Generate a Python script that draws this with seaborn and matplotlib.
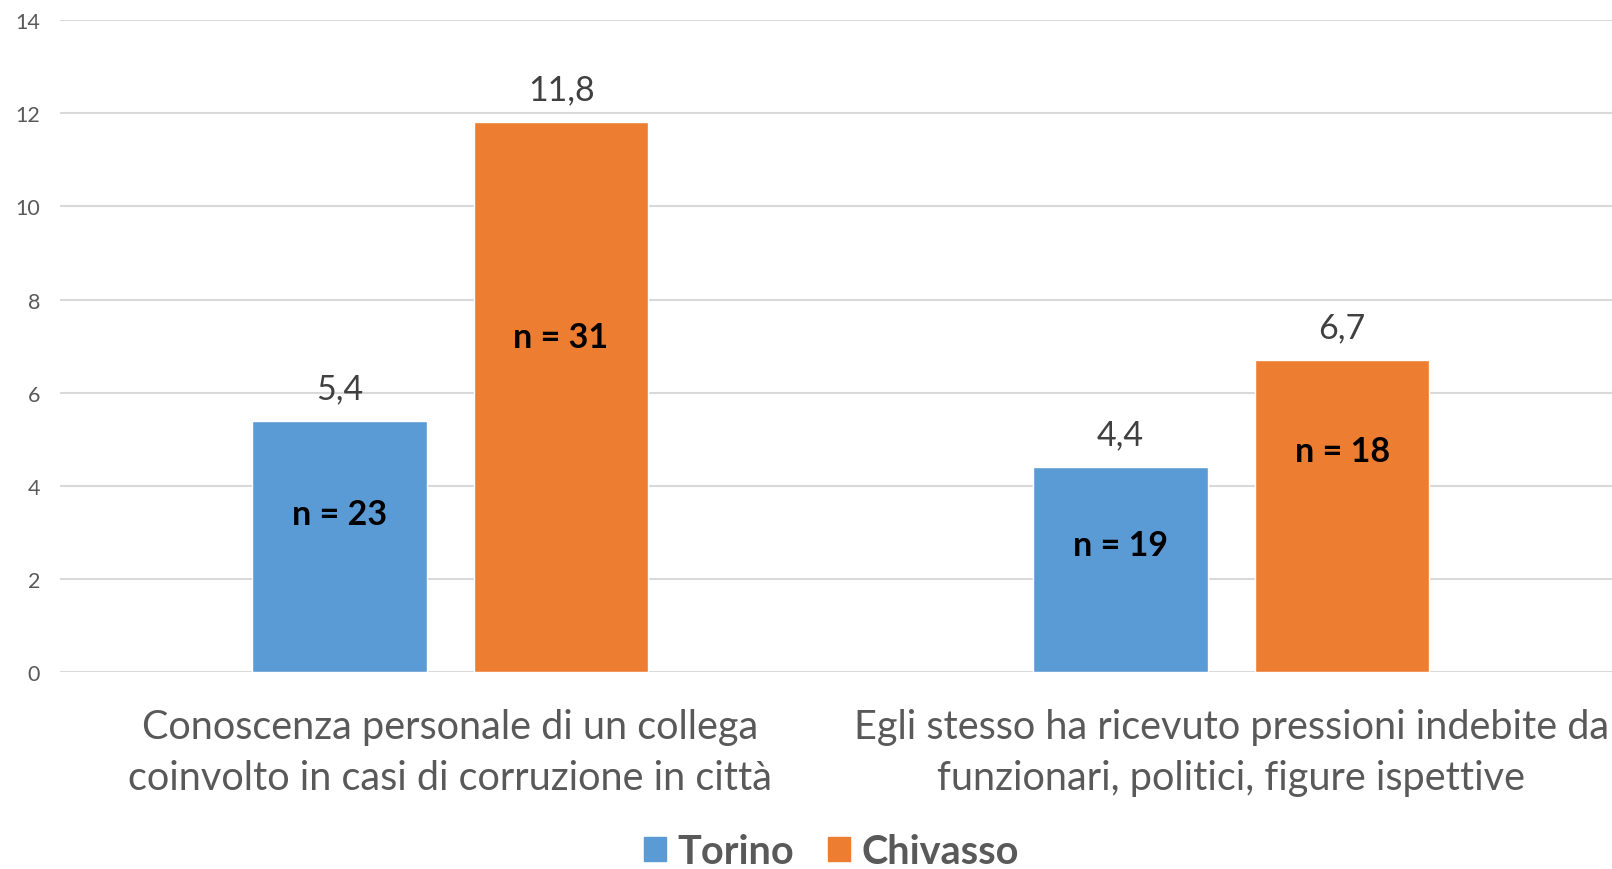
import matplotlib
matplotlib.use("Agg")
import matplotlib.pyplot as plt
import seaborn as sns
import pandas as pd

categories = [
    "Conoscenza personale di un collega\ncoinvolto in casi di corruzione in città",
    "Egli stesso ha ricevuto pressioni indebite da\nfunzionari, politici, figure ispettive",
]
cities = ["Torino", "Chivasso"]
torino_values = [5.4, 4.4]
chivasso_values = [11.8, 6.7]
torino_n = [23, 19]
chivasso_n = [31, 18]
y_ticks = [0, 2, 4, 6, 8, 10, 12, 14]

palette = {"Torino": "#5B9BD5", "Chivasso": "#ED7D31"}
text_grey = "#595959"

df = pd.DataFrame({
    "categoria": categories * 2,
    "città": ["Torino"] * 2 + ["Chivasso"] * 2,
    "valore": torino_values + chivasso_values,
    "n": torino_n + chivasso_n,
})

sns.set_style("white")
plt.rcParams["font.family"] = ["Lato", "DejaVu Sans"]

fig = plt.figure(figsize=(16.12, 8.70), dpi=100)
ax = fig.add_axes([0.037, 0.226, 0.969, 0.75])

sns.barplot(data=df, x="categoria", y="valore", hue="città", order=categories,
            hue_order=cities, palette=palette, width=0.568, gap=0.212,
            saturation=1, ax=ax, legend=True)

ax.set_ylim(0, 14)
ax.set_xlim(-0.5, 1.5)
ax.set_yticks(y_ticks)
ax.set_yticklabels([str(t) for t in y_ticks])
ax.yaxis.grid(True, color="#d9d9d9", linewidth=1.5)
ax.set_axisbelow(True)
for s in ax.spines.values():
    s.set_visible(False)
ax.tick_params(axis="y", length=0, pad=14, labelsize=15.5, labelcolor=text_grey)
ax.tick_params(axis="x", length=0, pad=26, labelsize=28.5, labelcolor=text_grey)
for lbl in ax.get_xticklabels():
    lbl.set_linespacing(1.45)
ax.set_xlabel("")
ax.set_ylabel("")

# value labels above the bars and sample sizes inside them
n_label_frac = [[0.63, 0.62], [0.61, 0.71]]
for ci, container in enumerate(ax.containers):
    ns = torino_n if ci == 0 else chivasso_n
    vals = torino_values if ci == 0 else chivasso_values
    for bi, bar in enumerate(container):
        xc = bar.get_x() + bar.get_width() / 2
        h = bar.get_height()
        ax.annotate(f"{vals[bi]:.1f}".replace(".", ","), (xc, h),
                    xytext=(0, 12), textcoords="offset points",
                    ha="center", va="bottom", fontsize=24.5, color="#404040")
        ax.text(xc, h * n_label_frac[ci][bi], f"n = {ns[bi]}",
                ha="center", va="center", fontsize=24.5, fontweight="bold",
                color="black")

ax.legend_.remove()
handles = [plt.Rectangle((0, 0), 1, 1, color=palette[c]) for c in cities]
fig.legend(handles, cities, loc="center", bbox_to_anchor=(0.516, 0.02),
           ncol=2, frameon=False, handlelength=0.55, handleheight=0.55,
           handletextpad=0.3, columnspacing=0.85,
           prop={"size": 28.5, "weight": "bold"}, labelcolor=text_grey)

fig.savefig("out.png", dpi=100)
